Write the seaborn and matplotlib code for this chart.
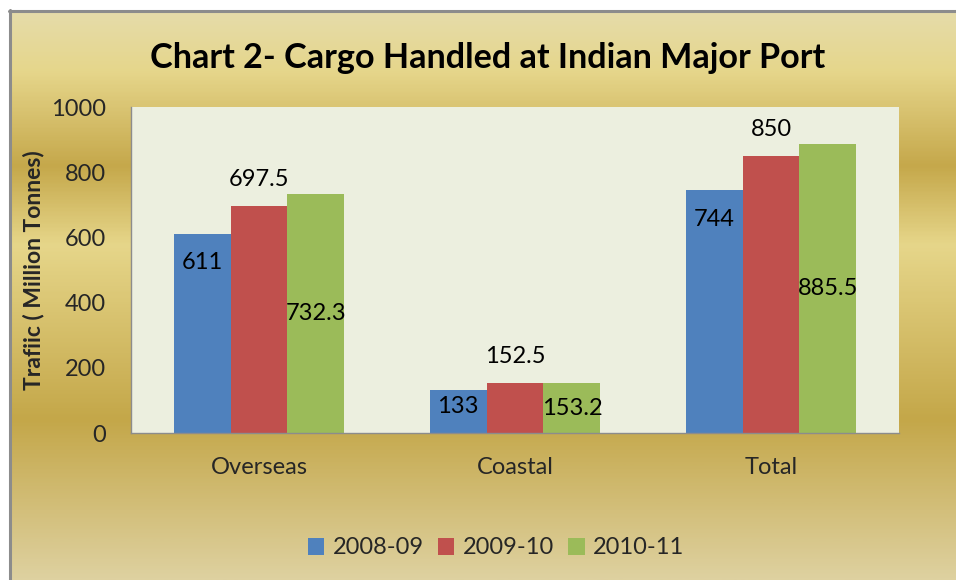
import numpy as np
import pandas as pd
import matplotlib
matplotlib.use("Agg")
import matplotlib.pyplot as plt
import seaborn as sns
from matplotlib.colors import LinearSegmentedColormap
from matplotlib.lines import Line2D
from matplotlib.patches import Patch

# ---- data ----
categories = ["Overseas", "Coastal", "Total"]
years = ["2008-09", "2009-10", "2010-11"]
v_2008_09 = [611, 133, 744]
v_2009_10 = [697.5, 152.5, 850]
v_2010_11 = [732.3, 153.2, 885.5]
colors = ["#4F81BD", "#C0504D", "#9BBB59"]
yticks = [0, 200, 400, 600, 800, 1000]

df = pd.DataFrame({
    "Category": categories * 3,
    "Year": [years[0]] * 3 + [years[1]] * 3 + [years[2]] * 3,
    "Value": v_2008_09 + v_2009_10 + v_2010_11,
})

sns.set_theme(style="white")
FONT = ["Lato", "DejaVu Sans"]
plt.rcParams["font.family"] = FONT

W, H = 956, 580
FS = 17
fig = plt.figure(figsize=(W / 100, H / 100), dpi=100, facecolor="white")

# ---- gold gradient background ----
bg = fig.add_axes([9 / W, 0, 1 - 9 / W, 1 - 10 / H], zorder=-10)
stops = [(0.0, "#E5DCAA"), (0.105, "#E6D68B"), (0.272, "#C5A84B"),
         (0.412, "#E6D68A"), (0.72, "#C4A749"), (1.0, "#DED1A0")]
cmap = LinearSegmentedColormap.from_list("gold", stops)
grad = np.linspace(0, 1, 400).reshape(-1, 1)
bg.imshow(grad, aspect="auto", cmap=cmap, extent=[0, 1, 1, 0])
bg.set_axis_off()
fig.add_artist(Line2D([9 / W, 1], [1 - 10.5 / H, 1 - 10.5 / H], color="#8C8C8C", lw=2.2))
fig.add_artist(Line2D([10 / W, 10 / W], [0, 1 - 10 / H], color="#8C8C8C", lw=2.2))

# ---- main axes ----
AX_L, AX_R, AX_T, AX_B = 131, 899, 107, 433
ax = fig.add_axes([AX_L / W, 1 - AX_B / H, (AX_R - AX_L) / W, (AX_B - AX_T) / H])
ax.set_facecolor("#ECEFDF")
sns.barplot(data=df, x="Category", y="Value", hue="Year", order=categories,
            hue_order=years, palette=colors, width=0.667, saturation=1,
            linewidth=0, edgecolor="none", ax=ax, legend=False)
ax.set_xlim(-0.5, 2.5)
ax.set_ylim(0, 1000)
ax.set_yticks(yticks)
ax.set_yticklabels([str(t) for t in yticks], fontsize=FS)
ax.set_xticks(range(3))
ax.set_xticklabels(categories, fontsize=FS)
ax.set_xticks([-0.5, 0.5, 1.5, 2.5], minor=True)
ax.tick_params(axis="x", which="major", length=0, pad=17)
ax.tick_params(axis="x", which="minor", length=6, direction="out", color="#8C8C8C", width=1)
ax.tick_params(axis="y", length=6, direction="out", color="#8C8C8C", width=1, pad=12)
for s in ["top", "right"]:
    ax.spines[s].set_visible(False)
for s in ["left", "bottom"]:
    ax.spines[s].set_color("#8C8C8C")
    ax.spines[s].set_linewidth(1)
ax.set_xlabel("")
ax.set_ylabel("Trafiic ( Million Tonnes)", fontsize=16.5, fontweight="bold")
ax.yaxis.set_label_coords((44 - AX_L) / (AX_R - AX_L), 0.5)

# ---- data labels ----
px_per_unit = (AX_B - AX_T) / 1000.0
for i, cont in enumerate(ax.containers):
    for bar in cont:
        v = bar.get_height()
        xc = bar.get_x() + bar.get_width() / 2
        lbl = f"{v:g}"
        if i == 0:   # inside end
            hpx = v * px_per_unit
            off = -min(29, hpx / 2 - 5)
            ax.annotate(lbl, (xc, v), xytext=(0, off * 0.72), textcoords="offset points",
                        ha="center", va="center", fontsize=FS, color="black")
        elif i == 1:  # outside end
            ax.annotate(lbl, (xc, v), xytext=(0, 19), textcoords="offset points",
                        ha="center", va="center", fontsize=FS, color="black")
        else:        # center
            ax.text(xc, v / 2, lbl, ha="center", va="center", fontsize=FS, color="black")

# ---- title ----
fig.text(488 / W, 1 - 58 / H, "Chart 2- Cargo Handled at Indian Major Port",
         ha="center", va="center", fontsize=24.6, fontweight="bold", color="black")

# ---- legend ----
handles = [Patch(facecolor=c, edgecolor="none") for c in colors]
fig.legend(handles, years, loc="center", bbox_to_anchor=(496 / W, 1 - 548 / H),
           ncol=3, frameon=False, fontsize=FS, handlelength=0.7, handleheight=0.7,
           handletextpad=0.35, columnspacing=0.6)

fig.savefig("out.png", dpi=100, facecolor=fig.get_facecolor())
